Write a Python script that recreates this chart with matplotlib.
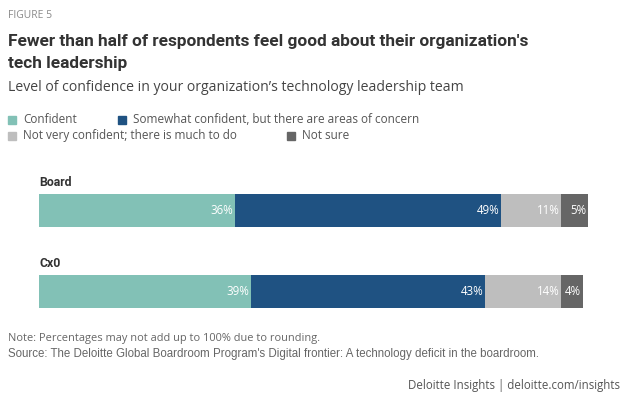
import matplotlib.pyplot as plt
from matplotlib.patches import Rectangle

# data
groups = ["Board", "Cx0"]
series = ["Confident",
          "Somewhat confident, but there are areas of concern",
          "Not very confident; there is much to do",
          "Not sure"]
confident = [36, 39]
somewhat = [49, 43]
not_very = [11, 14]
not_sure = [5, 4]
colors = ["#82C1B6", "#1F5282", "#BEBEBE", "#666666"]

W, H = 625, 394
COND = dict(family="Roboto", fontweight="bold")
OPEN = "Open Sans"


def fy(py):                     # pixel y (from top) -> figure fraction
    return 1 - py / H


fig = plt.figure(figsize=(W / 100, H / 100), dpi=100)
fig.patch.set_facecolor("white")

fig.text(8 / W, fy(18), "FIGURE 5", fontsize=7.5, color="#8a8a8a", family=OPEN, va="baseline")
fig.text(8 / W, fy(46), "Fewer than half of respondents feel good about their organization's",
         fontsize=12.4, color="#333333", va="baseline", **COND)
fig.text(8 / W, fy(68), "tech leadership", fontsize=12.4, color="#333333", va="baseline", **COND)
fig.text(8 / W, fy(91), "Level of confidence in your organization\u2019s technology leadership team",
         fontsize=10.1, color="#444444", family=OPEN, va="baseline")

# legend, drawn by hand
leg_pos = [(8, 119.5), (118, 119.5), (8, 136), (287, 136)]
for (px, py), lab, c in zip(leg_pos, series, colors):
    fig.patches.append(Rectangle((px / W, fy(py + 4)), 8 / W, 8 / H, color=c,
                                 transform=fig.transFigure, figure=fig))
    fig.text((px + 15) / W, fy(py + 3.5), lab, fontsize=8.5, color="#555555",
             family=OPEN, va="baseline")

ax = fig.add_axes([39 / W, fy(330), 544 / W, 160 / H])
ax.set_xlim(0, 100)
ax.set_ylim(-0.475, 1.5)
ax.axis("off")

ypos = [1, 0]
vals = [confident, somewhat, not_very, not_sure]
left = [0, 0]
for v, c in zip(vals, colors):
    ax.barh(ypos, v, left=left, height=0.4, color=c, clip_on=False)
    for y, l, x in zip(ypos, left, v):
        ax.text(l + x - 0.3, y, f"{x}%", ha="right", va="center", color="white",
                fontsize=8.3, family=OPEN, clip_on=False)
    left = [a + b for a, b in zip(left, v)]

for y, g in zip(ypos, groups):
    ax.text(0, y + 0.3, g, ha="left", va="baseline", fontsize=8.8, color="#333333", **COND)

fig.text(8 / W, fy(341), "Note: Percentages may not add up to 100% due to rounding.",
         fontsize=7.9, color="#666666", family=OPEN, va="baseline")
fig.text(8 / W, fy(357), "Source: The Deloitte Global Boardroom Program's Digital frontier: "
         "A technology deficit in the boardroom.",
         fontsize=8.3, color="#666666", family="Liberation Sans", va="baseline")
fig.text(620 / W, fy(389), "Deloitte Insights | deloitte.com/insights",
         fontsize=8.3, color="#555555", family=OPEN, ha="right", va="baseline")

fig.savefig("out.png", dpi=100)
